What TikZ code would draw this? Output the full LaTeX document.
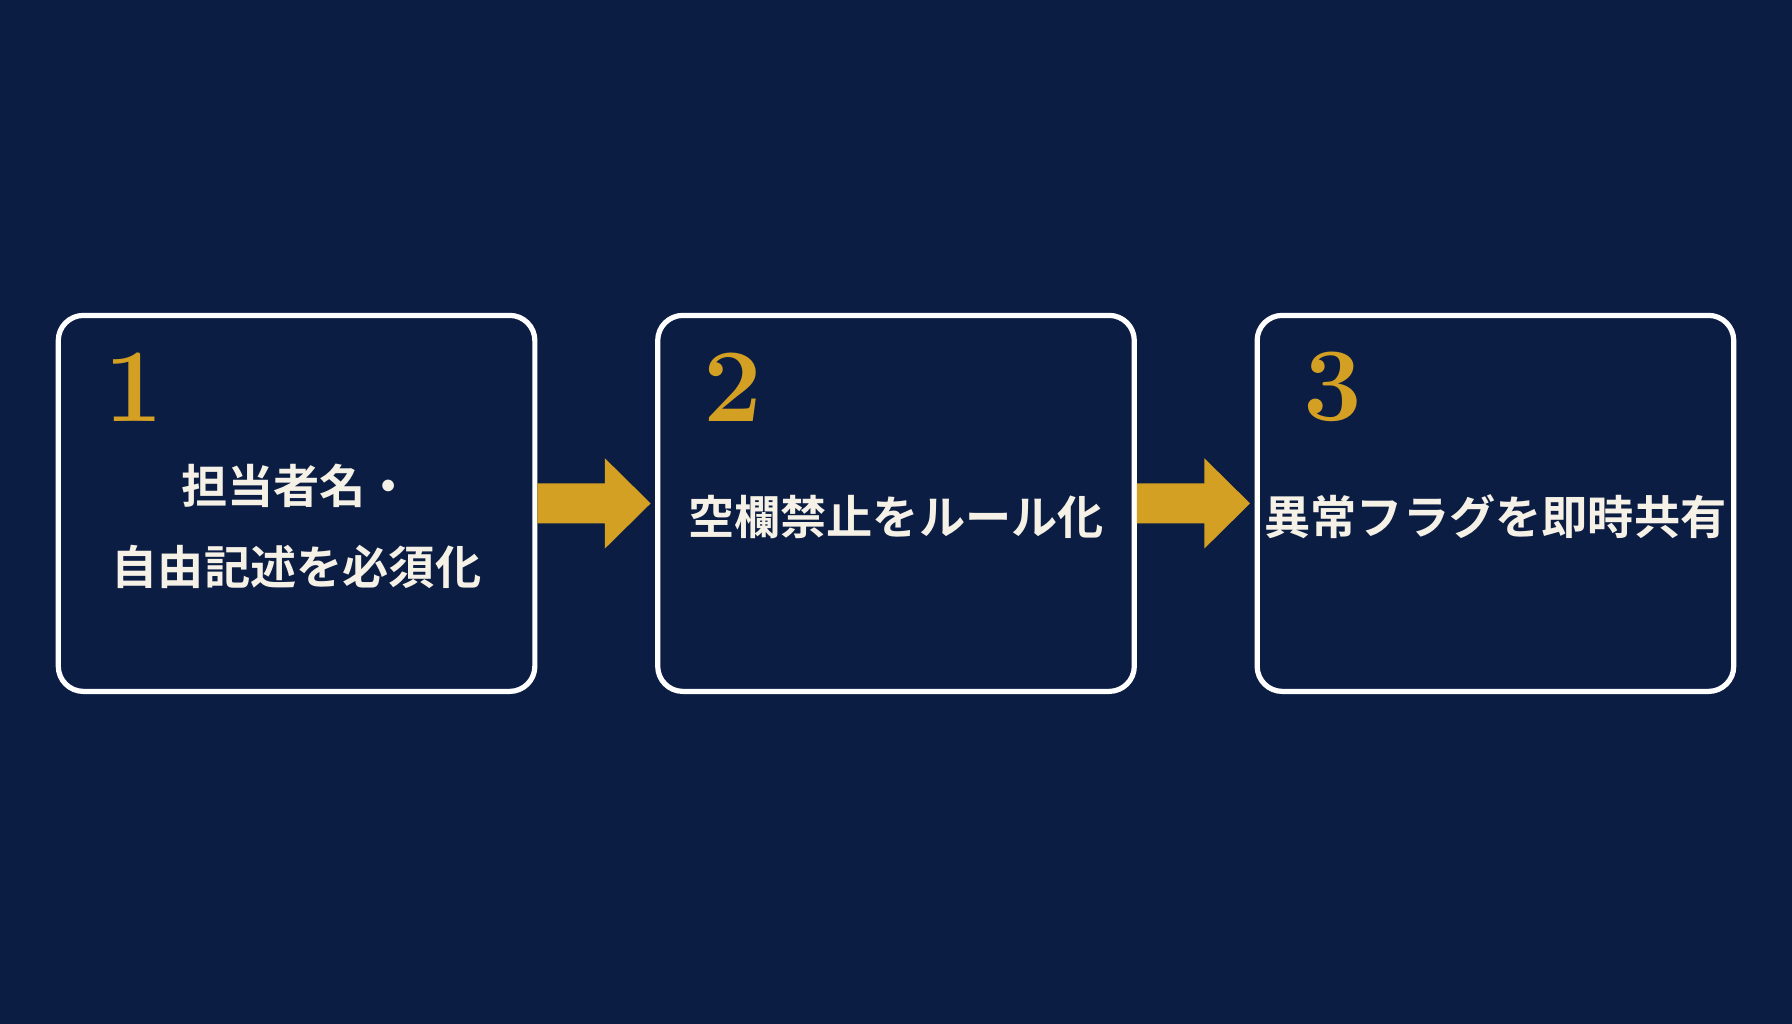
\documentclass[tikz,border=0pt]{standalone}
\usepackage{fontspec}
\newfontfamily\cjk{Noto Sans CJK JP Bold}
\usetikzlibrary{positioning,calc}
\definecolor{bgnavy}{HTML}{0B1D42}
\definecolor{stepgold}{HTML}{D4A024}
\definecolor{cream}{HTML}{F6F1E6}
\tikzset{
  stepbox/.style={draw=white,line width=1.3pt,rounded corners=0.22cm,
    minimum width=4.17cm,minimum height=3.29cm},
  num/.style={text=stepgold,font=\bfseries\fontsize{26}{26}\selectfont},
  steptext/.style={text=cream,font=\cjk\fontsize{11.5}{20}\selectfont,align=center},
  flow/.style={fill=stepgold}
}
\newcommand{\flowarrow}[1]{%
  \fill[flow] ($(#1)+(0,0.175)$) -- ++(0.59,0) -- ++(0,0.22)
    -- ($(#1)+(0.99,0)$) -- ($(#1)+(0.59,-0.395)$) -- ++(0,0.22)
    -- ($(#1)+(0,-0.175)$) -- cycle;}
\begin{document}
\begin{tikzpicture}
\fill[bgnavy] (0,0) rectangle (15.68,8.96);
\useasboundingbox (0,0) rectangle (15.68,8.96);

% Steps
\node[stepbox] (b1) at (2.595,4.555) {};
\node[stepbox] (b2) at (7.84,4.555) {};
\node[stepbox] (b3) at (13.085,4.555) {};

\foreach \b/\n in {b1/1,b2/2,b3/3} {
  \node[num,anchor=west] at ($(\b.north west)+(0.3,-0.65)$) {\n};
}

\node[steptext] (t1) at ($(b1.center)+(0,-0.2)$) {担当者名・\\自由記述を必須化};
\node[steptext] (t2) at ($(b2.center)+(0,-0.12)$) {空欄禁止をルール化};
\node[steptext] (t3) at ($(b3.center)+(0,-0.12)$) {異常フラグを即時共有};

% Arrows
\flowarrow{b1.east}
\flowarrow{b2.east}

\end{tikzpicture}
\end{document}
